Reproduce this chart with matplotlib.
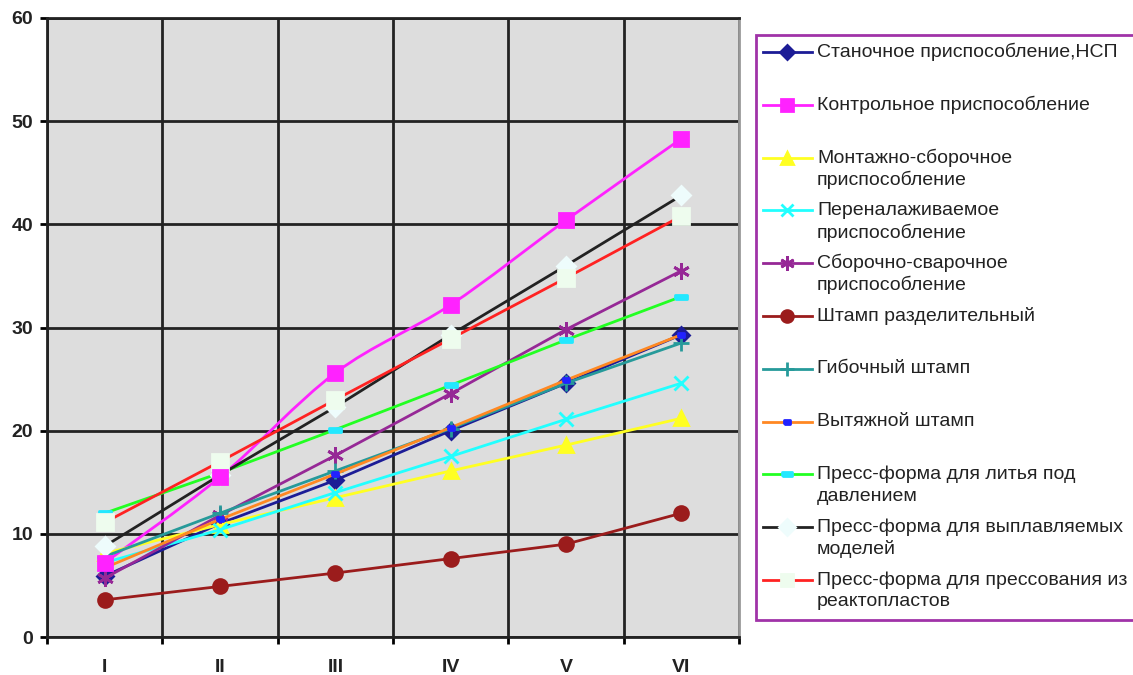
import matplotlib
matplotlib.use("Agg")
import matplotlib.pyplot as plt
from matplotlib.lines import Line2D
from matplotlib.patches import Rectangle, PathPatch
from matplotlib.path import Path

plt.rcParams['font.family'] = ['Liberation Sans', 'DejaVu Sans']

categories = ["I", "II", "III", "IV", "V", "VI"]

labels = [
    "Станочное приспособление,НСП",
    "Контрольное приспособление",
    "Монтажно-сборочное\nприспособление",
    "Переналаживаемое\nприспособление",
    "Сборочно-сварочное\nприспособление",
    "Штамп разделительный",
    "Гибочный штамп",
    "Вытяжной штамп",
    "Пресс-форма для литья под\nдавлением",
    "Пресс-форма для выплавляемых\nмоделей",
    "Пресс-форма для прессования из\nреактопластов",
]

stanochnoe = [5.9, 11.0, 15.2, 20.0, 24.6, 29.3]
kontrolnoe = [7.2, 15.5, 25.6, 32.2, 40.4, 48.3]
montazhnoe = [8.1, 10.9, 13.5, 16.1, 18.6, 21.2]
perenalazh = [7.2, 10.4, 14.0, 17.5, 21.1, 24.6]
svarochnoe = [5.7, 11.8, 17.6, 23.6, 29.8, 35.5]
razdelit = [3.6, 4.9, 6.2, 7.6, 9.0, 12.0]
gibochny = [7.8, 12.0, 16.1, 20.2, 24.6, 28.5]
vytyazhnoy = [6.7, 11.4, 15.8, 20.3, 24.9, 29.3]
litye = [12.0, 15.9, 20.1, 24.4, 28.8, 33.0]
vyplavl = [8.8, 15.7, 22.3, 29.3, 36.0, 42.8]
pressovanie = [11.1, 17.0, 23.0, 28.9, 34.8, 40.8]

series = [stanochnoe, kontrolnoe, montazhnoe, perenalazh, svarochnoe, razdelit,
          gibochny, vytyazhnoy, litye, vyplavl, pressovanie]

# line colour, marker, marker face colour, marker size
dash_long = [(-1, -0.3), (1, -0.3), (1, 0.3), (-1, 0.3), (-1, -0.3)]
dash_short = [(-1, -0.6), (1, -0.6), (1, 0.6), (-1, 0.6), (-1, -0.6)]
styles = [
    ("#1c1c96", "D", "#1c1c96", 8),
    ("#ff22ff", "s", "#ff22ff", 10),
    ("#ffff22", "^", "#ffff22", 10),
    ("#22ffff", "x", "#22ffff", 10),
    ("#962896", (6, 2, 0), "#962896", 12),
    ("#9b1c1c", "o", "#9b1c1c", 10),
    ("#269a9a", "+", "#269a9a", 12),
    ("#ff8822", dash_short, "#2222ff", 5),
    ("#22ff22", dash_long, "#22e8ff", 9),
    ("#222222", "D", "#eefcfc", 9),
    ("#ff2222", "s", "#eefcee", 11),
]
smooth = [False, True, False, False, False, False, False, False, False, False, False]

x = list(range(1, len(categories) + 1))

fig = plt.figure(figsize=(11.33, 6.75), dpi=100)
ax = fig.add_axes([47 / 1133, 1 - 637 / 675, (739 - 47) / 1133, (637 - 18) / 675])
ax.set_facecolor("#dddddd")


def smooth_path(xs, ys):
    verts = [(xs[0], ys[0])]
    codes = [Path.MOVETO]
    n = len(xs)
    for i in range(n - 1):
        x0, y0 = (xs[i - 1], ys[i - 1]) if i > 0 else (xs[i], ys[i])
        x3, y3 = (xs[i + 2], ys[i + 2]) if i + 2 < n else (xs[i + 1], ys[i + 1])
        c1 = (xs[i] + (xs[i + 1] - x0) / 6, ys[i] + (ys[i + 1] - y0) / 6)
        c2 = (xs[i + 1] - (x3 - xs[i]) / 6, ys[i + 1] - (y3 - ys[i]) / 6)
        verts += [c1, c2, (xs[i + 1], ys[i + 1])]
        codes += [Path.CURVE4] * 3
    return Path(verts, codes)


for ys, (lc, mk, mfc, ms), sm in zip(series, styles, smooth):
    if sm:
        ax.add_patch(PathPatch(smooth_path(x, ys), facecolor="none", edgecolor=lc,
                               lw=2, zorder=3))
        ax.plot(x, ys, ls="none", marker=mk, color=mfc, markersize=ms,
                markeredgewidth=2, zorder=4)
    else:
        ax.plot(x, ys, color=lc, lw=2, marker=mk, markerfacecolor=mfc,
                markeredgecolor=mfc, markersize=ms, markeredgewidth=2, zorder=3)

ax.set_xlim(0.5, 6.5)
ax.set_ylim(0, 60)
ax.set_yticks(range(0, 61, 10))
ax.set_xticks(x)
ax.set_xticklabels(categories)
ax.set_xticks([i + 0.5 for i in range(0, 7)], minor=True)
ax.tick_params(axis="x", which="major", length=0, pad=16)
ax.tick_params(axis="x", which="minor", length=5, width=2, direction="out")
ax.tick_params(axis="y", length=5, width=2, pad=5)
for lbl in ax.get_xticklabels() + ax.get_yticklabels():
    lbl.set_fontsize(14)
    lbl.set_fontweight("bold")
    lbl.set_color("#222222")
ax.grid(axis="y", which="major", color="#222222", lw=2)
ax.grid(axis="x", which="minor", color="#222222", lw=2)
ax.set_axisbelow(True)
for side in ["left", "bottom", "top"]:
    ax.spines[side].set_color("#222222")
    ax.spines[side].set_linewidth(2)
ax.spines["right"].set_color("#999999")
ax.spines["right"].set_linewidth(2)

# legend box drawn by hand, Excel-style even spacing
W, H = 1133, 675
fig.patches.append(Rectangle((756 / W, 1 - 620 / H), (1140 - 756) / W, (620 - 35) / H,
                             transform=fig.transFigure, facecolor="white",
                             edgecolor="#a033a8", lw=2))
for i, (lab, (lc, mk, mfc, ms)) in enumerate(zip(labels, styles)):
    yp = 52 + 52.8 * i
    fig.add_artist(Line2D([763 / W, 812 / W], [1 - yp / H, 1 - yp / H],
                          transform=fig.transFigure, color=lc, lw=2))
    fig.add_artist(Line2D([787 / W], [1 - yp / H], transform=fig.transFigure,
                          ls="none", marker=mk, color=mfc, markersize=ms * 0.85,
                          markeredgewidth=2))
    for k, part in enumerate(lab.split("\n")):
        fig.text(817 / W, 1 - (yp + 22 * k) / H, part, fontsize=14,
                 va="center", ha="left", color="#222222")

fig.savefig("out.png", dpi=100)
